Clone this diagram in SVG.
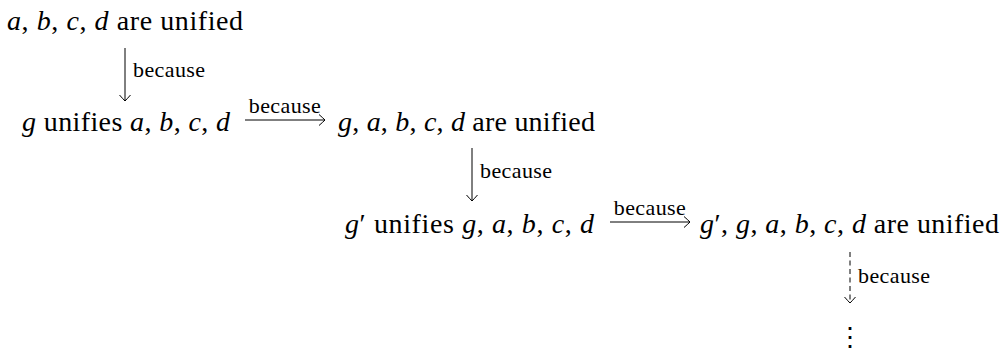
<svg xmlns="http://www.w3.org/2000/svg" width="1002" height="353" viewBox="0 0 1002 353">
<style>
.t{font-family:"Liberation Serif","Times New Roman",serif;font-size:28px;fill:#000}
.i{font-style:italic}
.l{font-family:"Liberation Serif","Times New Roman",serif;font-size:22px;fill:#000;letter-spacing:0.4px}
.a{stroke:#000;stroke-width:1;fill:none}
.d{stroke-dasharray:5,3.5}
</style>
<defs>
<marker id="h" markerUnits="userSpaceOnUse" markerWidth="16" markerHeight="16" refX="0" refY="0" viewBox="-8 -8 16 16" orient="auto" overflow="visible">
<path d="M-6,-5.5 Q-1.5,-1.5 0,0 Q-1.5,1.5 -6,5.5" stroke="#000" stroke-width="1" fill="none"/>
</marker>
</defs>
<rect width="1002" height="353" fill="#fff"/>
<g id="n1"><text class="t" x="7" y="30" textLength="236" lengthAdjust="spacing"><tspan class="i">a</tspan>, <tspan class="i">b</tspan>, <tspan class="i">c</tspan>, <tspan class="i">d</tspan> are unified</text></g>
<g id="n2"><text class="t" x="22" y="131" textLength="208" lengthAdjust="spacing"><tspan class="i">g</tspan> unifies <tspan class="i">a</tspan>, <tspan class="i">b</tspan>, <tspan class="i">c</tspan>, <tspan class="i">d</tspan></text></g>
<g id="n3"><text class="t" x="338" y="131" textLength="257" lengthAdjust="spacing"><tspan class="i">g</tspan>, <tspan class="i">a</tspan>, <tspan class="i">b</tspan>, <tspan class="i">c</tspan>, <tspan class="i">d</tspan> are unified</text></g>
<g id="n4"><text class="t" x="345" y="233" textLength="249" lengthAdjust="spacing"><tspan class="i">g</tspan>′ unifies <tspan class="i">g</tspan>, <tspan class="i">a</tspan>, <tspan class="i">b</tspan>, <tspan class="i">c</tspan>, <tspan class="i">d</tspan></text></g>
<g id="n5"><text class="t" x="700" y="233" textLength="299" lengthAdjust="spacing"><tspan class="i">g</tspan>′, <tspan class="i">g</tspan>, <tspan class="i">a</tspan>, <tspan class="i">b</tspan>, <tspan class="i">c</tspan>, <tspan class="i">d</tspan> are unified</text></g>
<g id="n6"><text x="850" y="346" text-anchor="middle" style="font-family:'DejaVu Serif',serif;font-size:26px">⋮</text></g>
<g id="connectors">
<line class="a" x1="125" y1="48" x2="125" y2="101" marker-end="url(#h)"/>
<text class="l" x="133" y="77">because</text>
<line class="a" x1="245" y1="120" x2="325" y2="120" marker-end="url(#h)"/>
<text class="l" x="285" y="113" text-anchor="middle">because</text>
<line class="a" x1="472" y1="148" x2="472" y2="201" marker-end="url(#h)"/>
<text class="l" x="480" y="178">because</text>
<line class="a" x1="610" y1="222" x2="690" y2="222" marker-end="url(#h)"/>
<text class="l" x="650" y="215" text-anchor="middle">because</text>
<line class="a d" x1="850" y1="252" x2="850" y2="303" marker-end="url(#h)"/>
<text class="l" x="858" y="283">because</text>
</g>
</svg>
